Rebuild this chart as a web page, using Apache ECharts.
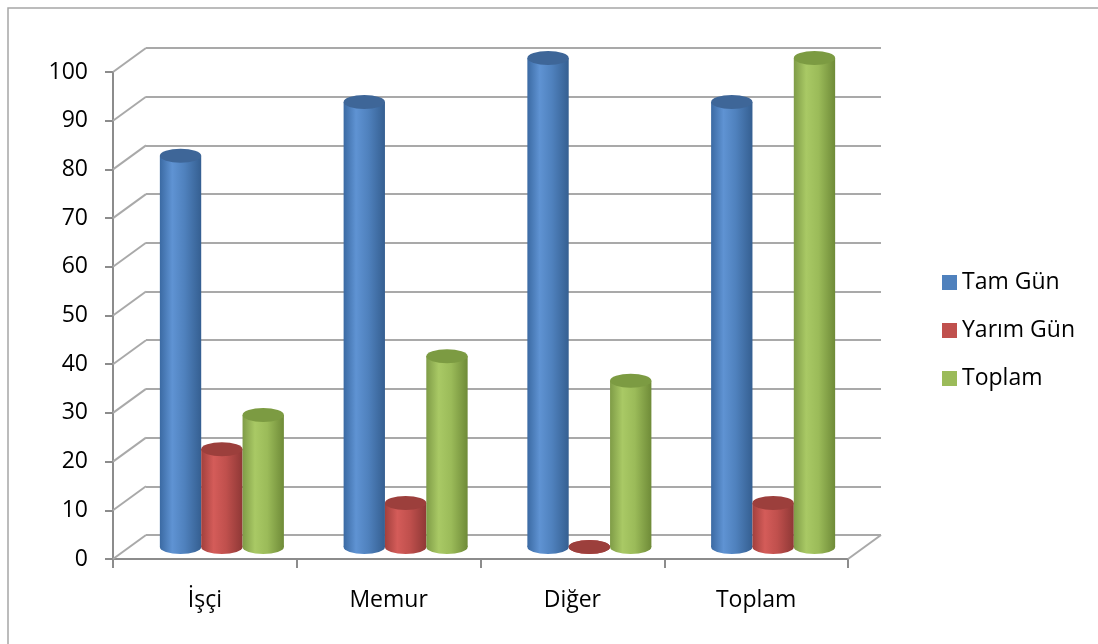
<!DOCTYPE html>
<html>
<head>
    <meta charset="utf-8">
    <title>ECharts</title>
    <script src="https://cdn.jsdelivr.net/npm/echarts@6/dist/echarts.min.js"></script>
</head>
<body style="margin:0">

    <div id="main" style="width: 1098px;height:644px;"></div>
    <script type="text/javascript">
var categories = ['İşçi', 'Memur', 'Diğer', 'Toplam'];
var tamGun = [80, 91, 100, 91];
var yarimGun = [20, 9, 0, 9];
var toplam = [27, 39, 34, 100];
var tickValues = [0, 10, 20, 30, 40, 50, 60, 70, 80, 90, 100];

var font = '"Open Sans", "Noto Sans", sans-serif';
var gridGray = '#a9a9a9';

// renk: sol kenar, parlak, orta, sag kenar, ust kapak
var shades = [
    ['#3b6aa3', '#5f93d3', '#4f81bd', '#355f91', '#3e6698'],
    ['#a2403d', '#d45c59', '#c0504d', '#8f3836', '#9c3f3c'],
    ['#7f9c47', '#a9c965', '#9bbb59', '#6f8b38', '#7c9b42']
];

function cylinder(si) {
    return function (params, api) {
        var cat = api.value(0);
        var v = api.value(1);
        var top = api.coord([cat, v]);
        var base = api.coord([cat, 0]);
        var w = api.size([1, 0])[0] * 0.225;
        var cx = top[0] + (si - 1) * w;
        var rx = w / 2, ry = 7;
        var c = shades[si];
        var grad = {
            type: 'linear', x: 0, y: 0, x2: 1, y2: 0,
            colorStops: [
                {offset: 0, color: c[0]},
                {offset: 0.3, color: c[1]},
                {offset: 0.6, color: c[2]},
                {offset: 1, color: c[3]}
            ]
        };
        return {
            type: 'group',
            children: [
                {
                    type: 'circle', x: cx, y: base[1], scaleY: ry / rx,
                    shape: {cx: 0, cy: 0, r: rx},
                    style: {fill: grad}
                },
                {
                    type: 'rect',
                    shape: {x: cx - rx, y: top[1], width: w, height: base[1] - top[1]},
                    style: {fill: grad}
                },
                {
                    type: 'circle', x: cx, y: top[1], scaleY: ry / rx,
                    shape: {cx: 0, cy: 0, r: rx},
                    style: {fill: c[4]}
                }
            ]
        };
    };
}

function frameLines(params, api) {
    var cs = params.coordSys;
    var v = api.value(1);
    var p = api.coord([0, v]);
    var kids = [{
        type: 'line',
        shape: {x1: cs.x, y1: p[1], x2: cs.x + 33, y2: p[1] - 24},
        style: {stroke: gridGray, lineWidth: 2}
    }];
    if (v === 0) {
        kids.push({
            type: 'line',
            shape: {x1: cs.x + cs.width, y1: p[1], x2: cs.x + cs.width + 33, y2: p[1] - 24},
            style: {stroke: gridGray, lineWidth: 2}
        });
    }
    return {type: 'group', children: kids};
}

var myChart = echarts.init(document.getElementById('main'));
var option = {
    backgroundColor: '#ffffff',
    animation: false,
    graphic: [{
        type: 'rect',
        shape: {x: 8, y: 8, width: 1200, height: 700},
        style: {fill: 'none', stroke: '#a6a6a6', lineWidth: 1.5},
        silent: true
    }],
    legend: {
        orient: 'vertical',
        left: 937,
        top: 266,
        itemWidth: 15,
        itemHeight: 15,
        itemGap: 25,
        icon: 'rect',
        textStyle: {fontFamily: font, fontSize: 23, color: '#000'},
        data: ['Tam Gün', 'Yarım Gün', 'Toplam']
    },
    grid: [
        // arka duvar
        {left: 146, top: 48, width: 735, height: 487},
        // on eksen
        {left: 113, top: 72, width: 735, height: 487},
        // silindirler
        {left: 130, top: 58, width: 735, height: 489}
    ],
    xAxis: [
        {gridIndex: 0, type: 'category', data: categories, show: false},
        {
            gridIndex: 1, type: 'category', data: categories,
            axisLine: {lineStyle: {color: '#8c8c8c', width: 2}},
            axisTick: {show: true, length: 9, lineStyle: {color: '#8c8c8c', width: 2}},
            axisLabel: {fontFamily: font, fontSize: 23, color: '#000', margin: 30}
        },
        {gridIndex: 2, type: 'category', data: categories, show: false}
    ],
    yAxis: [
        {
            gridIndex: 0, type: 'value', min: 0, max: 100, interval: 10,
            axisLine: {show: false}, axisTick: {show: false}, axisLabel: {show: false},
            splitLine: {lineStyle: {color: gridGray, width: 2}}
        },
        {
            gridIndex: 1, type: 'value', min: 0, max: 100, interval: 10,
            axisLine: {show: true, lineStyle: {color: '#8c8c8c', width: 2}},
            axisTick: {show: true, length: 8, lineStyle: {color: '#8c8c8c', width: 2}},
            axisLabel: {fontFamily: font, fontSize: 23, color: '#000', margin: 25},
            splitLine: {show: false}
        },
        {gridIndex: 2, type: 'value', min: 0, max: 100, show: false, splitLine: {show: false}}
    ],
    series: [
        {
            type: 'custom', name: 'frame', xAxisIndex: 1, yAxisIndex: 1,
            silent: true, renderItem: frameLines,
            data: tickValues.map(function (t) { return [0, t]; })
        },
        {
            type: 'custom', name: 'Tam Gün', xAxisIndex: 2, yAxisIndex: 2,
            itemStyle: {color: '#4f81bd'}, renderItem: cylinder(0),
            data: tamGun.map(function (v, i) { return [i, v]; })
        },
        {
            type: 'custom', name: 'Yarım Gün', xAxisIndex: 2, yAxisIndex: 2,
            itemStyle: {color: '#c0504d'}, renderItem: cylinder(1),
            data: yarimGun.map(function (v, i) { return [i, v]; })
        },
        {
            type: 'custom', name: 'Toplam', xAxisIndex: 2, yAxisIndex: 2,
            itemStyle: {color: '#9bbb59'}, renderItem: cylinder(2),
            data: toplam.map(function (v, i) { return [i, v]; })
        }
    ]
};
myChart.setOption(option);
    </script>
</body>
</html>
